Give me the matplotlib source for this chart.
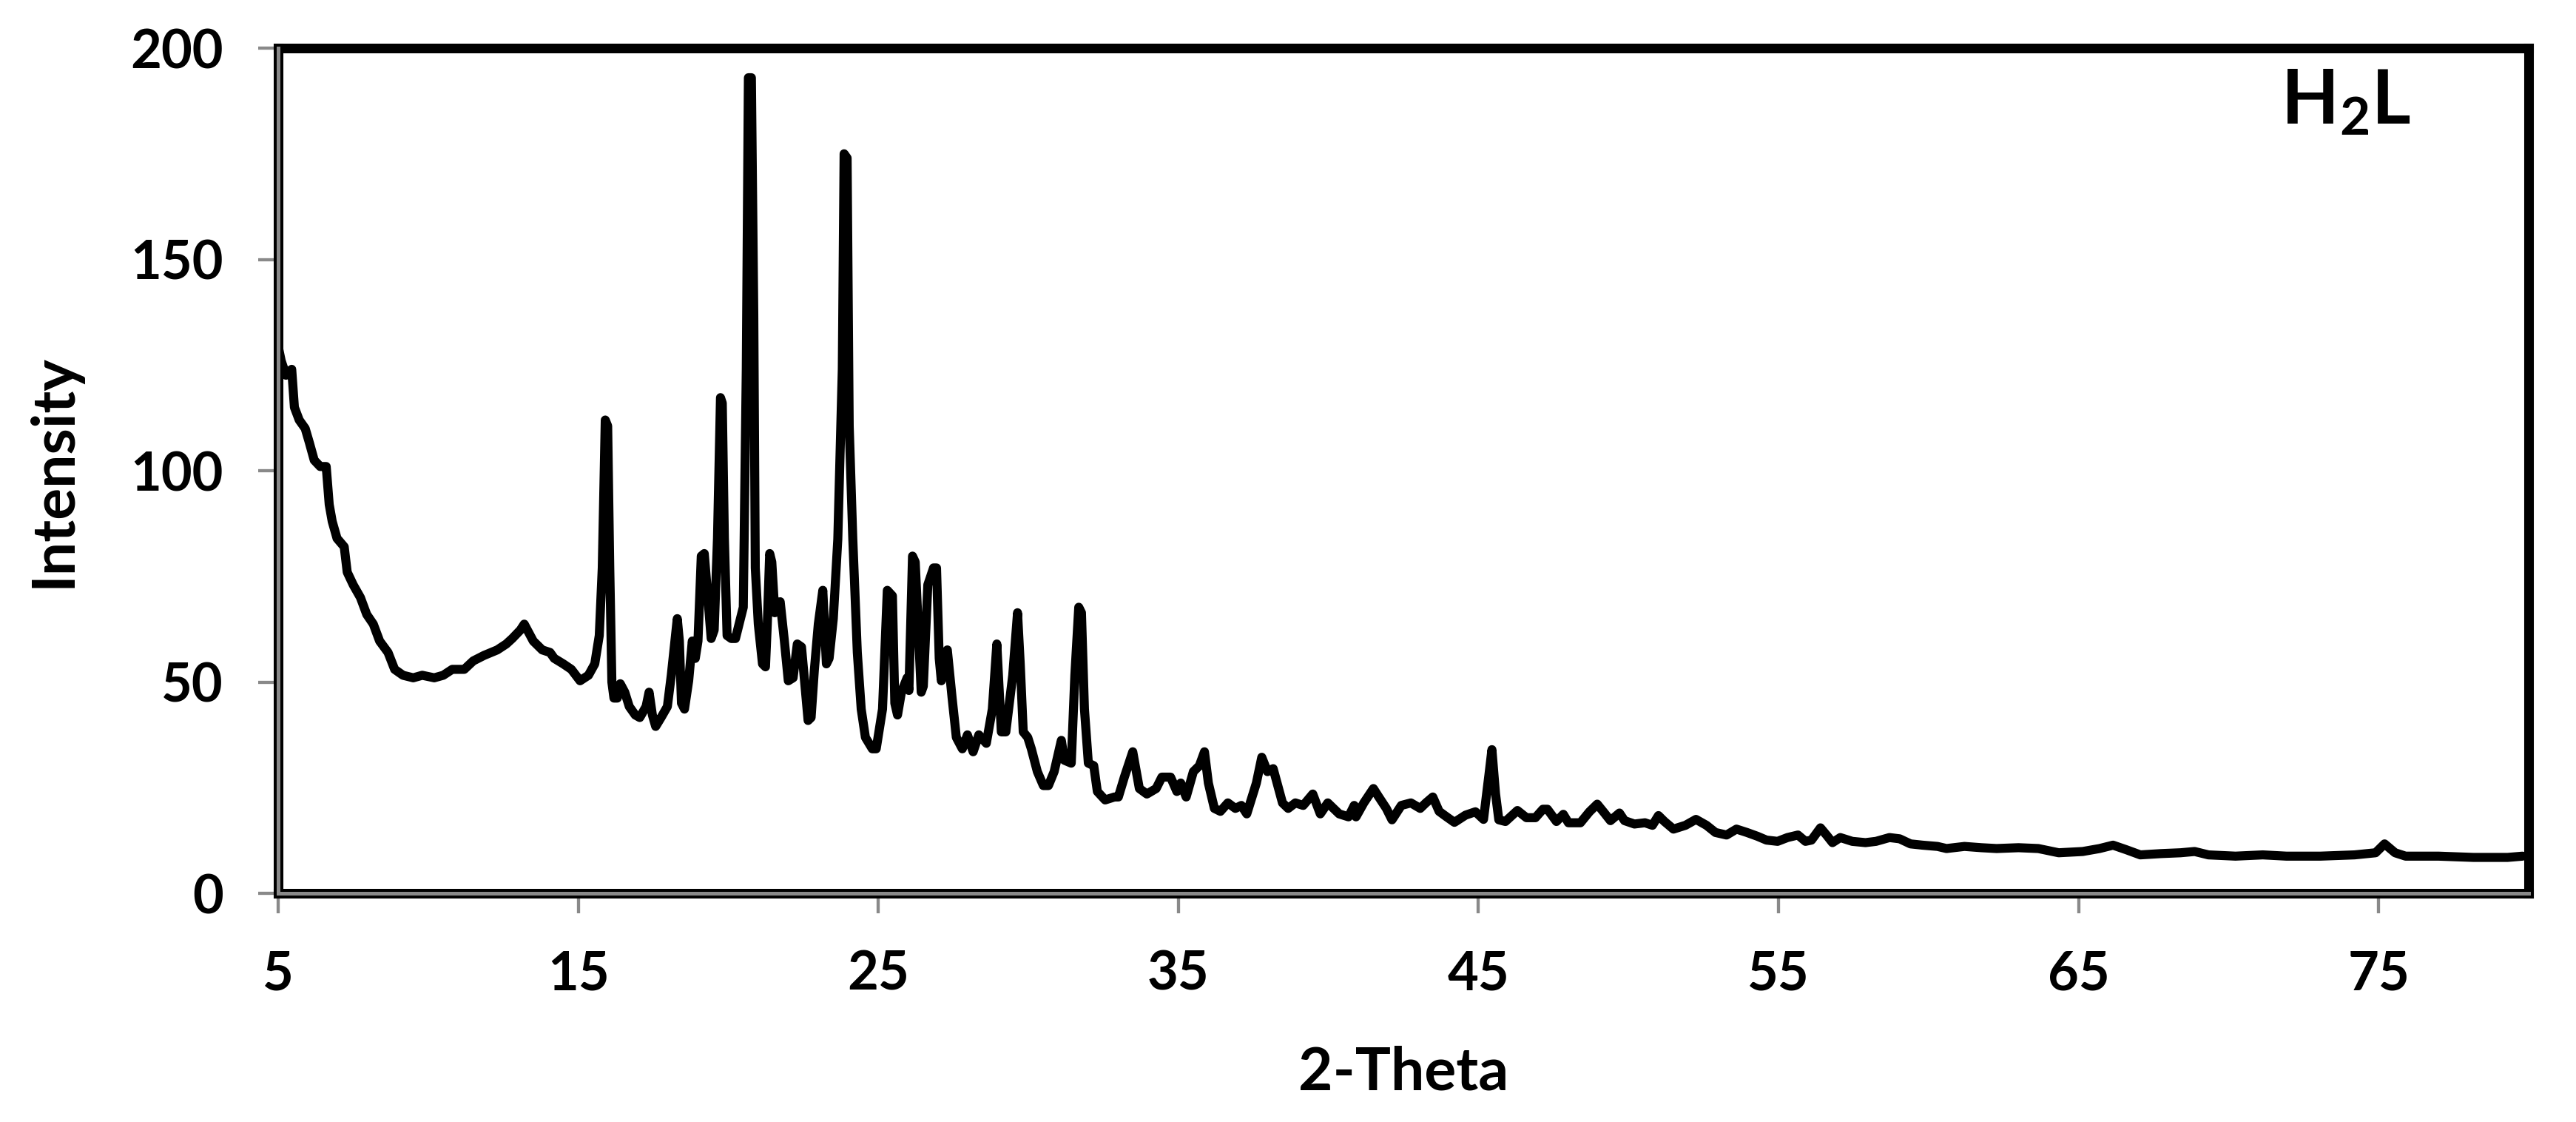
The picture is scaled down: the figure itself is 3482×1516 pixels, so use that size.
import matplotlib
matplotlib.use("Agg")
import matplotlib.pyplot as plt

# XRD pattern of H2L
two_theta = [5.00, 5.10, 5.26, 5.45, 5.54, 5.70, 5.90, 6.04, 6.20, 6.40, 6.60, 6.70, 6.80, 6.96,
             7.20, 7.30, 7.50, 7.74, 7.95, 8.17, 8.38, 8.66, 8.88, 9.16, 9.50, 9.80, 10.20, 10.50,
             10.80, 11.20, 11.50, 11.86, 12.30, 12.60, 12.80, 13.07, 13.20, 13.50, 13.80, 14.06,
             14.20, 14.50, 14.77, 15.06, 15.34, 15.55, 15.70, 15.80, 15.90, 15.98, 16.05, 16.12,
             16.19, 16.30, 16.40, 16.55, 16.70, 16.90, 17.05, 17.26, 17.36, 17.47, 17.58, 17.76,
             17.97, 18.10, 18.30, 18.37, 18.44, 18.54, 18.68, 18.80, 18.90, 18.99, 19.10, 19.20,
             19.32, 19.43, 19.53, 19.64, 19.74, 19.80, 19.87, 19.96, 20.10, 20.24, 20.38, 20.50,
             20.60, 20.67, 20.77, 20.85, 20.90, 21.00, 21.14, 21.24, 21.30, 21.38, 21.45, 21.55,
             21.73, 21.87, 22.00, 22.16, 22.30, 22.44, 22.66, 22.76, 22.87, 23.00, 23.15, 23.27,
             23.36, 23.50, 23.65, 23.80, 23.86, 23.96, 24.03, 24.15, 24.30, 24.43, 24.57, 24.80,
             24.93, 25.14, 25.30, 25.47, 25.55, 25.64, 25.77, 25.96, 26.02, 26.14, 26.23, 26.43,
             26.50, 26.65, 26.84, 26.94, 27.03, 27.10, 27.30, 27.46, 27.60, 27.80, 27.97, 28.16,
             28.35, 28.60, 28.80, 28.95, 29.10, 29.25, 29.48, 29.64, 29.73, 29.83, 29.98, 30.10,
             30.30, 30.50, 30.67, 30.86, 31.10, 31.20, 31.43, 31.55, 31.68, 31.77, 31.87, 32.00,
             32.18, 32.30, 32.56, 32.87, 33.00, 33.20, 33.48, 33.70, 33.95, 34.26, 34.45, 34.74,
             34.95, 35.08, 35.26, 35.50, 35.70, 35.87, 36.00, 36.20, 36.40, 36.65, 36.90, 37.10,
             37.28, 37.60, 37.78, 37.97, 38.16, 38.47, 38.66, 38.90, 39.16, 39.48, 39.73, 39.98,
             40.36, 40.67, 40.86, 40.92, 41.18, 41.50, 41.68, 41.93, 42.12, 42.43, 42.75, 43.06,
             43.25, 43.48, 43.69, 43.94, 44.20, 44.57, 44.90, 45.17, 45.35, 45.45, 45.57, 45.68,
             45.90, 46.30, 46.60, 46.90, 47.15, 47.30, 47.60, 47.83, 48.00, 48.40, 48.70, 48.96,
             49.20, 49.40, 49.70, 49.87, 50.20, 50.55, 50.80, 51.00, 51.20, 51.50, 51.90, 52.25,
             52.60, 52.90, 53.27, 53.60, 53.95, 54.30, 54.60, 54.97, 55.30, 55.65, 55.90, 56.10,
             56.40, 56.60, 56.80, 57.06, 57.46, 57.90, 58.25, 58.70, 59.04, 59.40, 59.80, 60.30,
             60.60, 61.20, 61.76, 62.27, 63.00, 63.66, 64.34, 65.14, 65.70, 66.15, 66.60, 67.06,
             67.74, 68.40, 68.87, 69.33, 70.23, 71.14, 71.93, 73.06, 74.20, 74.90, 75.20, 75.55,
             75.90, 77.00, 78.16, 79.30, 79.80]
intensity = [129.4, 126.0, 122.6, 124.0, 115.0, 112.0, 110.0, 106.6, 102.5, 101.0, 101.0, 92.0, 88.0, 84.0,
             82.0, 76.0, 73.0, 70.0, 66.0, 63.7, 59.7, 57.0, 53.0, 51.6, 51.0, 51.6, 51.0, 51.6,
             53.0, 53.0, 55.0, 56.3, 57.6, 59.0, 60.3, 62.3, 63.7, 59.7, 57.6, 57.0,
             55.6, 54.3, 53.0, 50.3, 51.6, 54.3, 61.0, 77.0, 112.0, 110.6, 77.0, 50.0,
             46.2, 46.2, 49.6, 47.6, 44.2, 42.2, 41.6, 44.2, 47.6, 42.2, 39.5, 41.6,
             44.2, 51.6, 65.0, 59.7, 45.0, 43.6, 50.3, 59.7, 55.6, 59.7, 79.8, 80.4,
             70.0, 60.3, 62.3, 84.0, 117.3, 116.0, 84.0, 61.0, 60.3, 60.3, 64.3, 67.7,
             124.0, 193.0, 193.0, 137.0, 77.0, 63.7, 54.3, 53.6, 63.7, 80.4, 78.4, 66.4,
             69.0, 59.7, 50.3, 51.0, 59.0, 58.3, 40.9, 41.6, 53.0, 63.7, 71.7, 54.3,
             55.6, 65.0, 83.8, 124.0, 175.0, 174.0, 110.6, 83.8, 57.0, 43.6, 36.9, 34.2,
             34.2, 43.6, 71.7, 70.4, 45.0, 42.2, 47.6, 51.0, 48.0, 79.8, 78.4, 47.6,
             49.0, 73.0, 77.0, 77.0, 55.6, 50.3, 57.6, 46.2, 36.9, 34.2, 37.5, 33.5,
             37.5, 35.5, 43.6, 59.0, 38.2, 38.2, 51.6, 66.4, 54.3, 38.2, 36.9, 34.2,
             28.8, 25.5, 25.5, 28.8, 36.2, 31.5, 30.8, 51.6, 67.7, 66.4, 43.6, 30.8,
             30.2, 24.1, 22.1, 22.8, 22.8, 27.5, 33.5, 24.8, 23.5, 24.8, 27.5, 27.5,
             24.1, 26.1, 22.8, 28.8, 30.2, 33.5, 26.1, 20.1, 19.4, 21.4, 20.1, 20.8,
             18.8, 26.1, 32.2, 28.8, 29.5, 21.4, 20.1, 21.4, 20.8, 23.5, 18.8, 21.4,
             18.8, 18.1, 20.8, 18.1, 21.4, 24.8, 22.8, 20.1, 17.4, 20.8, 21.4, 20.1,
             21.4, 22.8, 19.4, 18.1, 16.8, 18.5, 19.3, 17.5, 28.0, 34.0, 23.6, 17.4,
             17.0, 19.6, 17.9, 17.9, 19.9, 19.9, 17.0, 18.7, 16.7, 16.7, 19.3, 21.1,
             19.0, 17.2, 19.0, 17.2, 16.4, 16.7, 16.1, 18.4, 17.0, 15.2, 16.1, 17.5,
             16.1, 14.4, 13.8, 15.2, 14.4, 13.5, 12.6, 12.3, 13.2, 13.8, 12.3, 12.6,
             15.5, 13.8, 12.0, 13.2, 12.3, 12.0, 12.3, 13.2, 12.9, 11.7, 11.4, 11.1,
             10.6, 11.1, 10.8, 10.6, 10.8, 10.6, 9.6, 9.9, 10.6, 11.4, 10.3, 9.1,
             9.4, 9.6, 9.9, 9.1, 8.8, 9.1, 8.8, 8.8, 9.1, 9.6, 11.7, 9.6,
             8.8, 8.8, 8.5, 8.5, 8.8]

x_ticks = [5, 15, 25, 35, 45, 55, 65, 75]
y_ticks = [0, 50, 100, 150, 200]

plt.rcParams['font.family'] = ['Lato', 'DejaVu Sans']
plt.rcParams['font.weight'] = 'bold'
plt.rcParams['mathtext.fontset'] = 'custom'
plt.rcParams['mathtext.rm'] = 'Lato:bold'
plt.rcParams['mathtext.it'] = 'Lato:bold'
plt.rcParams['mathtext.bf'] = 'Lato:bold'

grey = '#898989'

fig = plt.figure(figsize=(17.41, 7.58), dpi=200)
ax = fig.add_axes([0.108, 0.2038, 0.8736, 0.7533])

ax.plot(two_theta, intensity, color='black', lw=4.4, zorder=2.2,
        solid_joinstyle='round', solid_capstyle='round')

ax.set_xlim(5, 80)
ax.set_ylim(0, 200)
ax.set_xticks(x_ticks)
ax.set_yticks(y_ticks)

for s in ax.spines.values():
    s.set_color('black')
    s.set_linewidth(4.7)
    s.set_joinstyle('round')

# grey axis lines on top of the black frame
ax.axhline(0, color=grey, lw=1.8, zorder=3, clip_on=False)
ax.axvline(5, color=grey, lw=1.8, zorder=3, clip_on=False)

ax.tick_params(direction='out', length=9.7, width=1.55, color=grey, labelsize=26)
ax.tick_params(axis='x', pad=18)
ax.tick_params(axis='y', pad=17)

ax.set_xlabel('2-Theta', fontsize=29, fontweight='bold', labelpad=22)
ax.set_ylabel('Intensity', fontsize=29, fontweight='bold', labelpad=24)

ax.text(0.89, 0.91, 'H$_2$L', transform=ax.transAxes, fontsize=36.5,
        fontweight='bold', ha='left', va='baseline')

fig.savefig('out.png', dpi=200)
